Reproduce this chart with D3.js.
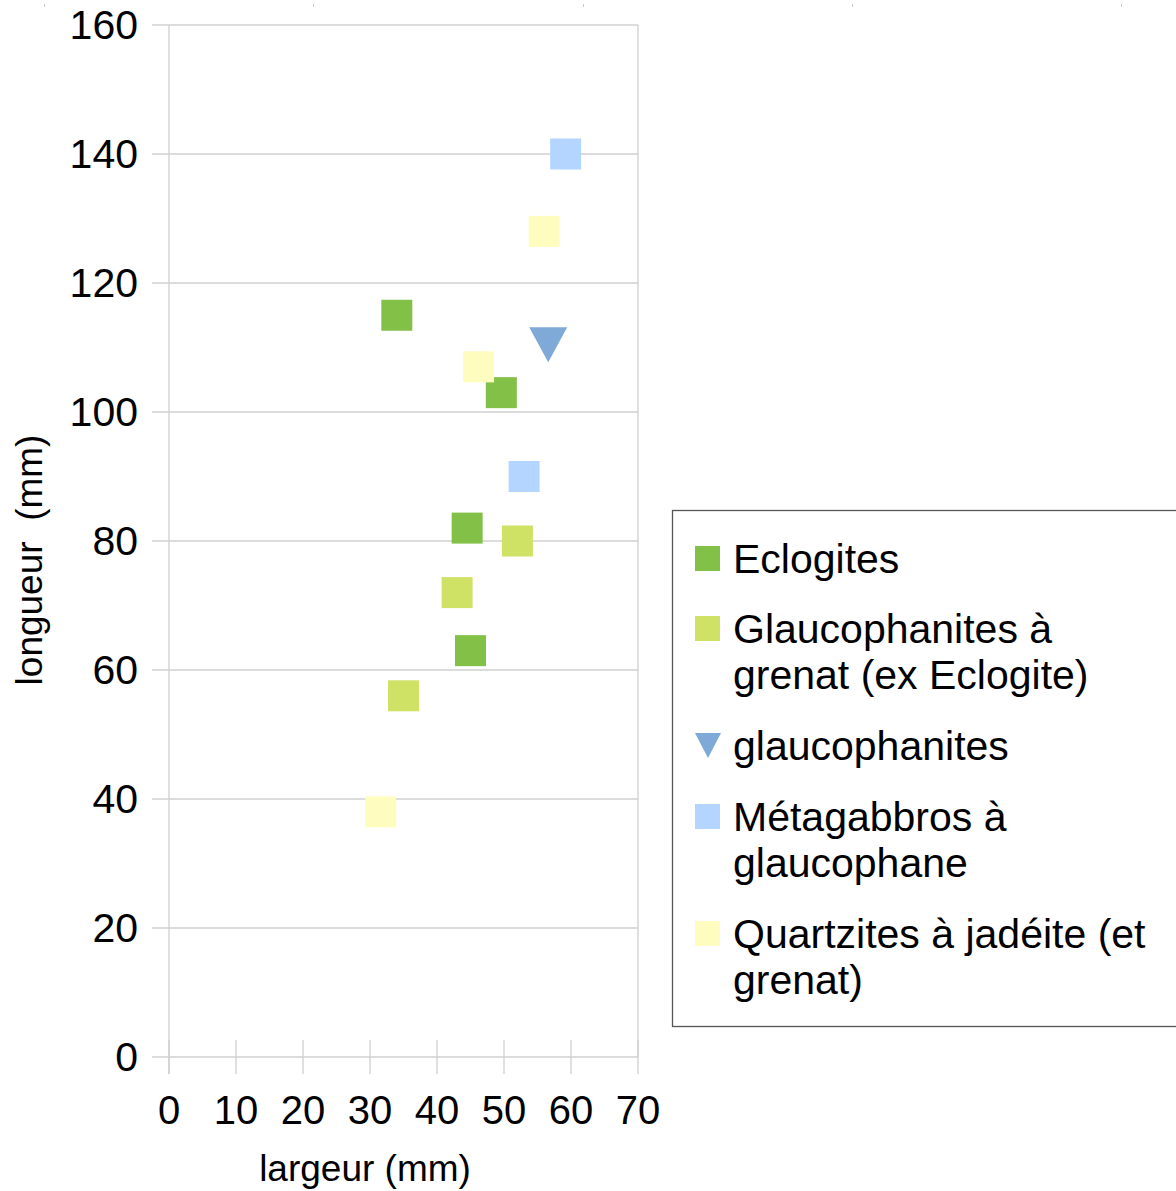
<!DOCTYPE html>
<html>
<head>
<meta charset="utf-8">
<script src="https://cdn.jsdelivr.net/npm/d3@7"></script>
<style>
  body { margin: 0; background: #fff; }
  text { font-family: "Liberation Sans", Arial, sans-serif; }
</style>
</head>
<body>
<svg id="chart" width="1176" height="1191"></svg>
<script>
// series: [largeur, longueur]
var eclogites = [[34, 115], [49.6, 103], [44.5, 82], [45, 63]];
var glaucoGrenat = [[35, 56], [43, 72], [52, 80]];
var glaucophanites = [[56.6, 110.5]];
var metagabbros = [[59.2, 140], [53, 90]];
var quartzites = [[56, 128], [46.2, 107], [31.6, 38]];

var seriesNames = ["Eclogites", "Glaucophanites à grenat (ex Eclogite)", "glaucophanites",
                   "Métagabbros à glaucophane", "Quartzites à jadéite (et grenat)"];
var legendLines = [["Eclogites"], ["Glaucophanites à", "grenat (ex Eclogite)"], ["glaucophanites"],
                   ["Métagabbros à", "glaucophane"], ["Quartzites à jadéite (et", "grenat)"]];
var colors = ["#83c048", "#cfe265", "#7fa9d6", "#b3d5ff", "#fffcc0"];
var shapes = ["square", "square", "triangle", "square", "square"];
var allSeries = [eclogites, glaucoGrenat, glaucophanites, metagabbros, quartzites];

var xTicks = [0, 10, 20, 30, 40, 50, 60, 70];
var yTicks = [0, 20, 40, 60, 80, 100, 120, 140, 160];

var svg = d3.select("#chart");
var pLeft = 169, pRight = 638, pTop = 25, pBottom = 1057;

var x = d3.scaleLinear().domain([0, 70]).range([pLeft, pRight]);
var y = d3.scaleLinear().domain([0, 160]).range([pBottom, pTop]);

// little dots along the top edge
svg.selectAll(".dot").data([44, 313, 583, 852, 1121]).enter()
  .append("rect")
    .attr("x", function(d){ return d; })
    .attr("y", 4)
    .attr("width", 1)
    .attr("height", 3)
    .style("fill", "#ccc");

// horizontal grid
svg.selectAll(".hgrid").data(yTicks).enter()
  .append("line")
    .attr("x1", pLeft - 17)
    .attr("x2", pRight)
    .attr("y1", function(d){ return y(d); })
    .attr("y2", function(d){ return y(d); })
    .style("stroke", "#d0d0d0")
    .style("stroke-width", 1.3);

// y axis line, right border
svg.append("line")
    .attr("x1", pLeft).attr("x2", pLeft)
    .attr("y1", pTop).attr("y2", pBottom + 17)
    .style("stroke", "#d0d0d0").style("stroke-width", 1.3);
svg.append("line")
    .attr("x1", pRight).attr("x2", pRight)
    .attr("y1", pTop).attr("y2", pBottom)
    .style("stroke", "#d0d0d0").style("stroke-width", 1.3);

// x ticks
svg.selectAll(".xtick").data(xTicks).enter()
  .append("line")
    .attr("x1", function(d){ return x(d); })
    .attr("x2", function(d){ return x(d); })
    .attr("y1", pBottom - 17)
    .attr("y2", pBottom + 17)
    .style("stroke", "#d0d0d0")
    .style("stroke-width", 1.3);

svg.selectAll(".xlab").data(xTicks).enter()
  .append("text")
    .attr("x", function(d){ return x(d); })
    .attr("y", 1124)
    .attr("text-anchor", "middle")
    .style("font-size", "40px")
    .text(function(d){ return d; });

svg.selectAll(".ylab").data(yTicks).enter()
  .append("text")
    .attr("x", 138)
    .attr("y", function(d){ return y(d) + 14; })
    .attr("text-anchor", "end")
    .style("font-size", "41px")
    .text(function(d){ return d; });

svg.append("text")
    .attr("x", 365)
    .attr("y", 1181)
    .attr("text-anchor", "middle")
    .style("font-size", "37px")
    .text("largeur (mm)");

svg.append("text")
    .attr("transform", "translate(42,560) rotate(-90)")
    .attr("text-anchor", "middle")
    .style("font-size", "37px")
    .style("white-space", "pre")
    .text("longueur  (mm)");

// points
var sz = 31;
allSeries.forEach(function(data, i) {
  var g = svg.append("g");
  if (shapes[i] == "square") {
    g.selectAll("rect").data(data).enter()
      .append("rect")
        .attr("x", function(d){ return x(d[0]) - sz/2; })
        .attr("y", function(d){ return y(d[1]) - sz/2; })
        .attr("width", sz)
        .attr("height", sz)
        .style("fill", colors[i]);
  } else {
    g.selectAll("path").data(data).enter()
      .append("path")
        .attr("d", function(d){
          var cx = x(d[0]), cy = y(d[1]);
          return "M" + (cx - 19) + " " + (cy - 17) + " L" + (cx + 19) + " " + (cy - 17) + " L" + cx + " " + (cy + 18) + " Z";
        })
        .style("fill", colors[i]);
  }
});

// legend
var legend = svg.append("g");
legend.append("rect")
    .attr("x", 672.5)
    .attr("y", 510.5)
    .attr("width", 520)
    .attr("height", 516)
    .style("fill", "white")
    .style("stroke", "#555")
    .style("stroke-width", 1.3);

var entryY = [559, 629, 746, 817, 934];
legendLines.forEach(function(lines, i) {
  var cy = entryY[i];
  if (shapes[i] == "square") {
    legend.append("rect")
        .attr("x", 695).attr("y", cy - 13)
        .attr("width", 25).attr("height", 25)
        .style("fill", colors[i]);
  } else {
    legend.append("path")
        .attr("d", "M695 " + (cy - 13) + " L721 " + (cy - 13) + " L708 " + (cy + 12) + " Z")
        .style("fill", colors[i]);
  }
  lines.forEach(function(t, j) {
    legend.append("text")
        .attr("x", 733)
        .attr("y", cy + 14 + j * 46)
        .style("font-size", "41px")
        .text(t);
  });
});
</script>
</body>
</html>
